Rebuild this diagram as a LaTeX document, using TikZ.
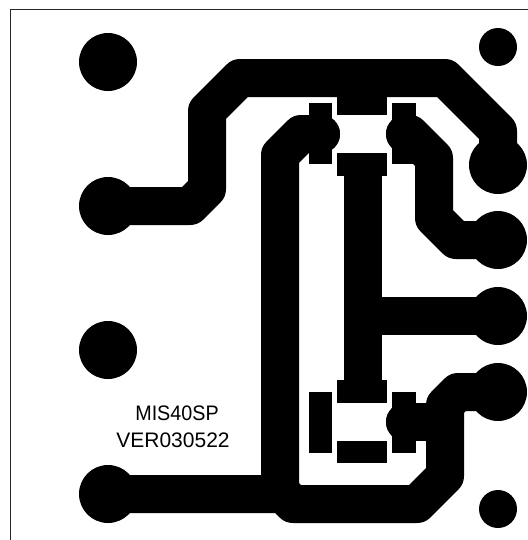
\documentclass[tikz,border=0pt]{standalone}
\usepackage{fontspec}
\setmainfont{Liberation Sans}
\tikzset{
  copper/.style={draw=black,line width=28.5pt,line join=round,line cap=round},
  copperflat/.style={draw=black,line width=28.5pt,line join=miter,line cap=butt},
  padrect/.style={fill=black,draw=none},
  label/.style={font=\fontsize{15.75pt}{18pt}\selectfont,inner sep=0pt,text=black}
}
\begin{document}
\begin{tikzpicture}[x=0.75pt,y=-0.75pt]
\useasboundingbox (0,0) rectangle (528,540);
\fill[white] (0,0) rectangle (528,540);
% board outline
\draw[line width=1.3pt,color=black!85] (10.5,540) -- (10.5,9.5) -- (528,9.5);
% holes
\foreach \x/\y/\r in {108/62/29,108/350/29,498/47/19,498/509/19}{
  \fill[black] (\x,\y) circle[radius=\r*0.75pt];
}
% lands
\foreach \x/\y in {108/206,108/494,498/165,498/240,498/316,498/392}{
  \fill[black] (\x,\y) circle[radius=21.75pt];
}
% small lands
\foreach \x/\y in {321/134,405/134,405/422}{
  \fill[black] (\x,\y) circle[radius=14.25pt];
}
% traces
\draw[copper] (108,206) -- (190,206) -- (207,189) -- (207,111) -- (240,78) -- (445,78) -- (498,131) -- (498,165);
\draw[copper] (321,134) -- (301,134) -- (280,155) -- (280,494);
\draw[copper] (108,494) -- (283,494) -- (293,504) -- (417,504) -- (445,476) -- (445,405) -- (458,392) -- (498,392);
\draw[copper] (405,422) -- (445,422);
\draw[copper] (405,134) -- (410,134) -- (434,158) -- (434,218) -- (456,240) -- (498,240);
\draw[copperflat] (362.5,165) -- (362.5,391);
\draw[copperflat] (362.5,316) -- (498,316);
% SMD pads
\foreach \xa/\ya/\xb/\yb in {337/92/387/115,337/153/387/176,337/380/387/403,337/441/387/463,
  309/103/332/164,392/103/416/164,309/392/332/453,392/392/416/453}{
  \fill[padrect] (\xa,\ya) rectangle (\xb,\yb);
}
\node[label,xscale=0.94] (name) at (177,413) {MIS40SP};
\node[label] (ver) at (173,440) {VER030522};
\end{tikzpicture}
\end{document}
